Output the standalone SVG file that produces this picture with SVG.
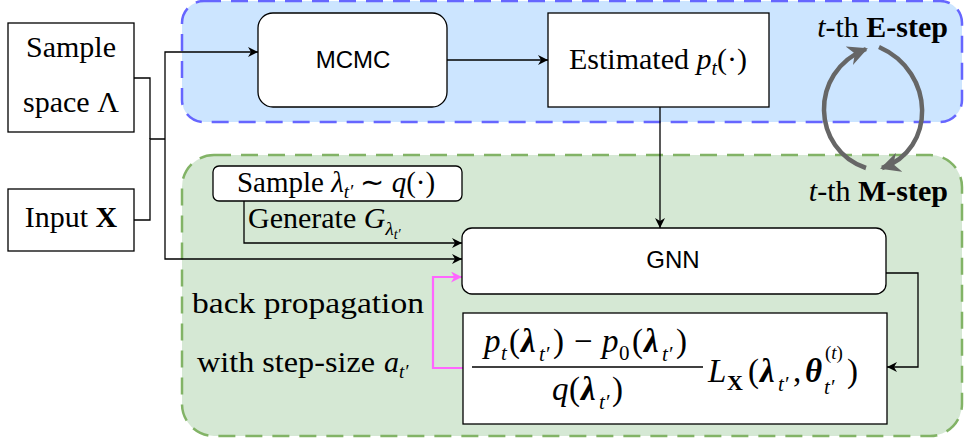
<svg xmlns="http://www.w3.org/2000/svg" width="965" height="443" viewBox="0 0 965 443">
<style>
.serif{font-family:"Liberation Serif","Times New Roman",serif;fill:#000}
.sans{font-family:"Liberation Sans",Arial,sans-serif;fill:#000}
.it{font-style:italic}
.bf{font-weight:bold}
.sub{font-size:21px;font-style:italic}
.box{fill:#fff;stroke:#000;stroke-width:1.3}
.edge{fill:none;stroke:#000;stroke-width:1.3}
</style>
<defs>
<marker id="ah" viewBox="0 0 10 10" refX="10" refY="5" markerWidth="10" markerHeight="10" markerUnits="userSpaceOnUse" orient="auto">
<path d="M0,0 L10,5 L0,10 L3,5 Z" fill="#000"/>
</marker>
<marker id="ahp" viewBox="0 0 10 10" refX="10" refY="5" markerWidth="11" markerHeight="11" markerUnits="userSpaceOnUse" orient="auto">
<path d="M0,0 L10,5 L0,10 L3,5 Z" fill="#ff66ff"/>
</marker>
<marker id="ahg" viewBox="0 0 10 10" refX="9" refY="5" markerWidth="20" markerHeight="20" markerUnits="userSpaceOnUse" orient="auto">
<path d="M0,0 L10,5 L0,10 L3,5 Z" fill="#666"/>
</marker>
</defs>

<g id="e-step-region">
<rect x="182" y="1" width="780" height="121" rx="22" fill="#cce5ff" stroke="#6666ff" stroke-width="2.5" stroke-dasharray="17 10"/>
<text class="serif" x="948" y="37" font-size="30" text-anchor="end"><tspan class="it">t</tspan>-th <tspan class="bf">E-step</tspan></text>
</g>
<g id="m-step-region">
<rect x="182" y="155" width="780" height="281" rx="32" fill="#d5e8d4" stroke="#82b366" stroke-width="2.5" stroke-dasharray="17 10"/>
<text class="serif" x="948" y="201" font-size="30" text-anchor="end"><tspan class="it">t</tspan>-th <tspan class="bf">M-step</tspan></text>
</g>

<g id="connectors">
<path class="edge" d="M134,78 H150 V139"/>
<path class="edge" d="M134,220 H150 V139 H165"/>
<path class="edge" d="M165,139 V52 H258" marker-end="url(#ah)"/>
<path class="edge" d="M165,139 V259 H462" marker-end="url(#ah)"/>
<path class="edge" d="M447,60 H548" marker-end="url(#ah)"/>
<path class="edge" d="M660,107 V228" marker-end="url(#ah)"/>
<path class="edge" d="M244,201 V243 H462" marker-end="url(#ah)"/>
<path class="edge" d="M886,273 H918 V367 H887" marker-end="url(#ah)"/>
<path fill="none" stroke="#ff66ff" stroke-width="2.2" d="M463,368 H433 V277 H462" marker-end="url(#ahp)"/>
<path fill="none" stroke="#666" stroke-width="4.5" d="M866,168 C812,150 808,72 866,49" marker-end="url(#ahg)"/>
<path fill="none" stroke="#666" stroke-width="4.5" d="M879,47 C936,72 936,150 882,168" marker-end="url(#ahg)"/>
<text class="serif" x="248" y="228" font-size="30">Generate <tspan class="it">G</tspan><tspan class="it" font-size="19" dy="7">λ</tspan><tspan class="it" font-size="14" dy="4">t′</tspan></text>
<text class="serif" x="192" y="313" font-size="30" textLength="232" lengthAdjust="spacingAndGlyphs">back propagation</text>
<text class="serif" x="197" y="372" font-size="30" textLength="178" lengthAdjust="spacingAndGlyphs">with step-size</text>
<text class="serif" x="384" y="372" font-size="30"><tspan class="it">a</tspan><tspan class="it" font-size="19" dy="6">t′</tspan></text>
</g>

<g id="sample-space">
<rect class="box" x="8" y="23" width="126" height="109"/>
<text class="serif" x="71" y="57" font-size="30" text-anchor="middle">Sample</text>
<text class="serif" x="71" y="112" font-size="30" text-anchor="middle">space Λ</text>
</g>
<g id="input-x">
<rect class="box" x="8" y="189" width="126" height="62"/>
<text class="serif" x="71" y="227" font-size="30" text-anchor="middle">Input <tspan class="bf">X</tspan></text>
</g>
<g id="mcmc">
<rect class="box" x="258" y="13" width="189" height="94" rx="15"/>
<text class="sans" x="353" y="68" font-size="24" text-anchor="middle">MCMC</text>
</g>
<g id="estimated">
<rect class="box" x="548" y="13" width="221" height="94"/>
<text class="serif" x="658" y="69" font-size="30" text-anchor="middle">Estimated <tspan class="it">p</tspan><tspan class="it" font-size="20" dy="6">t</tspan><tspan dy="-6">(·)</tspan></text>
</g>
<g id="sample-lambda">
<rect class="box" x="213" y="166" width="249" height="35" rx="6"/>
<text class="serif" x="336" y="192" font-size="29" text-anchor="middle">Sample <tspan class="it">λ</tspan><tspan class="it" font-size="19" dy="6">t′</tspan><tspan dy="-6"> ∼ </tspan><tspan class="it">q</tspan>(·)</text>
</g>
<g id="gnn">
<rect class="box" x="462" y="228" width="424" height="66" rx="10"/>
<text class="sans" x="673" y="268" font-size="24" text-anchor="middle">GNN</text>
</g>
<g id="loss">
<rect class="box" x="463" y="313" width="424" height="111"/>
<text class="serif" font-size="33">
<tspan class="it" x="484" y="352">p</tspan><tspan class="sub" x="501" y="360">t</tspan><tspan x="509" y="352">(</tspan><tspan class="it bf" x="521" y="352">λ</tspan><tspan class="sub" x="539" y="361">t′</tspan><tspan x="553" y="352">)</tspan><tspan x="574" y="352">−</tspan><tspan class="it" x="602" y="352">p</tspan><tspan font-size="21" x="619" y="360">0</tspan><tspan x="632" y="352">(</tspan><tspan class="it bf" x="644" y="352">λ</tspan><tspan class="sub" x="662" y="361">t′</tspan><tspan x="676" y="352">)</tspan>
</text>
<line x1="472" y1="367" x2="703" y2="367" stroke="#000" stroke-width="1.6"/>
<text class="serif" font-size="33">
<tspan class="it" x="552" y="400">q</tspan><tspan x="569" y="400">(</tspan><tspan class="it bf" x="581" y="400">λ</tspan><tspan class="sub" x="599" y="409">t′</tspan><tspan x="612" y="400">)</tspan>
</text>
<text class="serif" font-size="33">
<tspan class="it" x="708" y="382">L</tspan><tspan class="bf" font-size="22" x="727" y="390">X</tspan><tspan x="748" y="382">(</tspan><tspan class="it bf" x="760" y="382">λ</tspan><tspan class="sub" x="778" y="391">t′</tspan><tspan x="793" y="382">,</tspan><tspan class="it bf" x="805" y="382">θ</tspan><tspan class="sub" x="824" y="394">t′</tspan><tspan font-size="19" x="825" y="359">(<tspan class="it">t</tspan>)</tspan><tspan x="847" y="382">)</tspan>
</text>
</g>
</svg>
